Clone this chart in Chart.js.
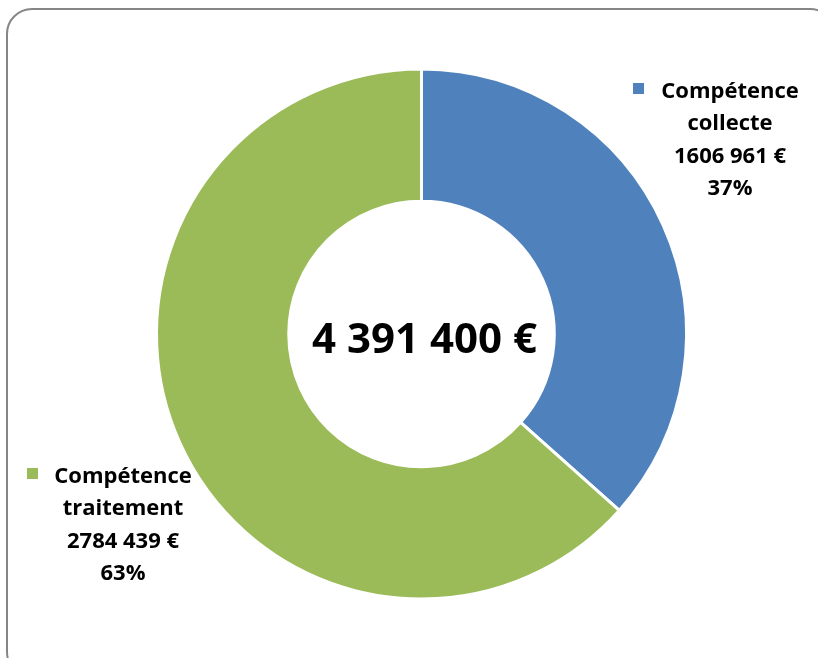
<!DOCTYPE html>
<html>
<head>
<meta charset="utf-8">
<script src="https://cdn.jsdelivr.net/npm/chart.js@4"></script>
<style>
  html, body { margin: 0; padding: 0; background: #fff; overflow: hidden; }
  #wrap { position: relative; width: 818px; height: 658px; overflow: hidden; }
  #cadre {
    position: absolute; left: 6px; top: 8px; width: 830px; height: 670px;
    border: 2px solid #868686; border-radius: 26px; box-sizing: border-box;
  }
  #graphique { position: absolute; left: 0; top: 0; }
</style>
</head>
<body>
<div id="wrap">
  <div id="cadre"></div>
  <canvas id="graphique" width="818" height="658"></canvas>
</div>
<script>
const categories = ["Compétence collecte", "Compétence traitement"];
const montants = [1606961, 2784439];
const libellesMontant = ["1606 961 €", "2784 439 €"];
const libellesPct = ["37%", "63%"];
const libelleTotal = "4 391 400 €";
const couleurs = ["#4F81BD", "#9BBB59"];

// position des étiquettes (carré de légende + lignes centrées)
const etiquettes = [
  { carre: [633, 83], cx: 730, lignes: ["Compétence", "collecte"], y0: 97.5 },
  { carre: [27, 468], cx: 123, lignes: ["Compétence", "traitement"], y0: 482.5 }
];

const police = '"Open Sans", "DejaVu Sans", sans-serif';

const pluginTextes = {
  id: "textes",
  afterDraw(chart) {
    const ctx = chart.ctx;
    const arc = chart.getDatasetMeta(0).data[0];
    ctx.save();
    ctx.fillStyle = "#000";
    ctx.textAlign = "center";
    ctx.textBaseline = "alphabetic";

    ctx.font = "bold 42px " + police;
    ctx.fillText(libelleTotal, arc.x + 3, 353);

    ctx.font = "bold 22px " + police;
    etiquettes.forEach((e, i) => {
      ctx.fillStyle = couleurs[i];
      ctx.fillRect(e.carre[0], e.carre[1], 11, 11);
      ctx.fillStyle = "#000";
      const lignes = e.lignes.concat([libellesMontant[i], libellesPct[i]]);
      lignes.forEach((l, j) => {
        ctx.fillText(l, e.cx, e.y0 + j * 32.5);
      });
    });
    ctx.restore();
  }
};

new Chart(document.getElementById("graphique"), {
  type: "doughnut",
  data: {
    labels: categories,
    datasets: [{
      data: montants,
      backgroundColor: couleurs,
      borderColor: "#ffffff",
      borderWidth: 3
    }]
  },
  options: {
    responsive: false,
    animation: false,
    devicePixelRatio: 1,
    radius: 265,
    cutout: 132,
    layout: { padding: { left: 156, right: 131, top: 69, bottom: 59 } },
    plugins: {
      legend: { display: false },
      tooltip: { enabled: false }
    }
  },
  plugins: [pluginTextes]
});
</script>
</body>
</html>
